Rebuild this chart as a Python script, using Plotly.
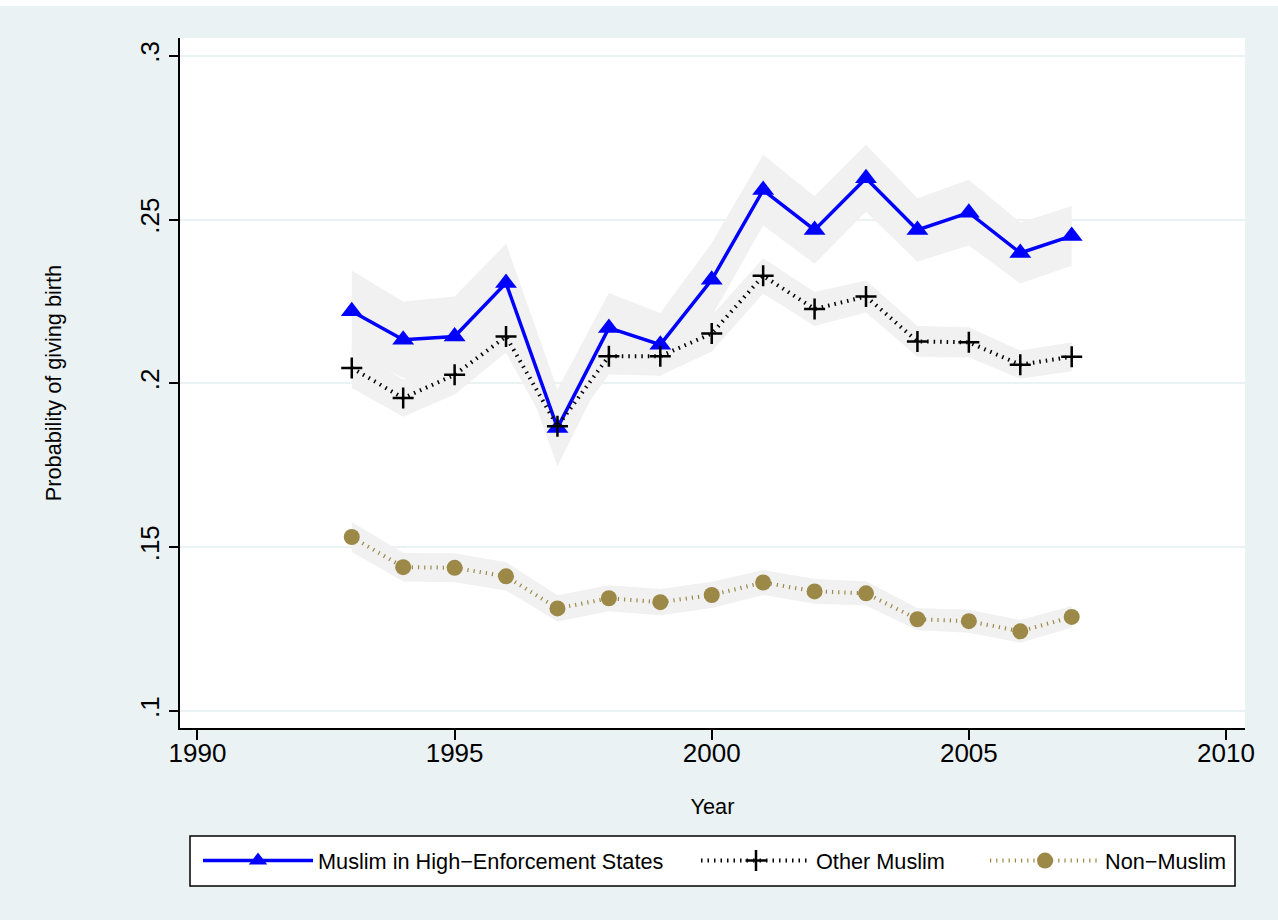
import plotly.graph_objects as go

# Survey years
years = list(range(1993, 2008))

# Predicted probability of giving birth, by group
high_enf = [0.2220, 0.2133, 0.2143, 0.2306, 0.1864, 0.2169, 0.2118, 0.2316,
            0.2590, 0.2468, 0.2626, 0.2468, 0.2521, 0.2398, 0.2450]
high_enf_lo = [0.2096, 0.2016, 0.2021, 0.2186, 0.1747, 0.2062, 0.2021, 0.2204,
               0.2482, 0.2365, 0.2524, 0.2371, 0.2421, 0.2305, 0.2359]
high_enf_hi = [0.2344, 0.2250, 0.2265, 0.2426, 0.1981, 0.2276, 0.2215, 0.2428,
               0.2698, 0.2571, 0.2728, 0.2565, 0.2621, 0.2491, 0.2541]

other_muslim = [0.2047, 0.1955, 0.2026, 0.2143, 0.1869, 0.2083, 0.2083, 0.2152,
                0.2328, 0.2227, 0.2265, 0.2128, 0.2125, 0.2057, 0.2081]
other_muslim_lo = [0.1986, 0.1898, 0.1966, 0.2093, 0.1809, 0.2027, 0.2023, 0.2097,
                   0.2274, 0.2175, 0.2216, 0.2081, 0.2079, 0.2014, 0.2037]
other_muslim_hi = [0.2108, 0.2012, 0.2086, 0.2193, 0.1929, 0.2139, 0.2143, 0.2207,
                   0.2382, 0.2279, 0.2314, 0.2175, 0.2171, 0.2100, 0.2125]

non_muslim = [0.1531, 0.1439, 0.1437, 0.1411, 0.1313, 0.1344, 0.1332, 0.1354,
              0.1392, 0.1365, 0.1359, 0.1280, 0.1274, 0.1243, 0.1287]
non_muslim_lo = [0.1485, 0.1395, 0.1393, 0.1368, 0.1273, 0.1304, 0.1292, 0.1314,
                 0.1354, 0.1327, 0.1322, 0.1246, 0.1239, 0.1208, 0.1254]
non_muslim_hi = [0.1577, 0.1483, 0.1481, 0.1454, 0.1353, 0.1384, 0.1372, 0.1394,
                 0.1430, 0.1403, 0.1396, 0.1314, 0.1309, 0.1278, 0.1320]

series_names = ["Muslim in High\u2212Enforcement States", "Other Muslim", "Non\u2212Muslim"]

x_ticks = [1990, 1995, 2000, 2005, 2010]
y_ticks = [0.1, 0.15, 0.2, 0.25, 0.3]
y_ticktext = [".1", ".15", ".2", ".25", ".3"]

BG = "#EAF2F3"
BAND = "#F1F1F1"
BLUE = "#0000FF"
TAN = "#9C8847"
FONT = "Liberation Sans, Arial, Helvetica, sans-serif"
TXT = 21.7

fig = go.Figure()

# Confidence bands (drawn first, beneath the lines)
for lo, hi in [(high_enf_lo, high_enf_hi),
               (other_muslim_lo, other_muslim_hi),
               (non_muslim_lo, non_muslim_hi)]:
    fig.add_trace(go.Scatter(
        x=years + years[::-1], y=hi + lo[::-1],
        fill="toself", fillcolor=BAND, mode="lines",
        line=dict(width=0, color=BAND), hoverinfo="skip", showlegend=False))

fig.add_trace(go.Scatter(
    x=years, y=high_enf, name=series_names[0], mode="lines+markers",
    line=dict(color=BLUE, width=3.5),
    marker=dict(symbol="triangle-up", size=19, color=BLUE),
    legend="legend"))

fig.add_trace(go.Scatter(
    x=years, y=other_muslim, name=series_names[1], mode="lines+markers",
    line=dict(color="black", width=4, dash="1.5px,5px"),
    marker=dict(symbol="cross-thin", size=15, color="black",
                line=dict(color="black", width=2.5)),
    legend="legend2"))

fig.add_trace(go.Scatter(
    x=years, y=non_muslim, name=series_names[2], mode="lines+markers",
    line=dict(color=TAN, width=4, dash="1.2px,5px"),
    marker=dict(symbol="circle", size=16, color=TAN),
    legend="legend3"))

# Plot region in pixels: x 180..1245, y 38..728
PL, PR, PT, PB = 180, 1245, 38, 728
pw, ph = PR - PL, PB - PT


def px(xp):
    return (xp - PL) / pw


def py(yp):
    return (PB - yp) / ph


legend_common = dict(orientation="h", xanchor="left", yanchor="middle",
                     bgcolor="rgba(0,0,0,0)", borderwidth=0, itemwidth=110,
                     font=dict(family=FONT, size=TXT, color="black"))

fig.update_layout(
    width=1278, height=920, autosize=False,
    paper_bgcolor=BG, plot_bgcolor="white",
    margin=dict(l=PL, r=1278 - PR, t=PT, b=920 - PB),
    font=dict(family=FONT, color="black"),
    legend=dict(x=px(198), y=py(861), **legend_common),
    legend2=dict(x=px(696), y=py(861), **legend_common),
    legend3=dict(x=px(985), y=py(861), **legend_common),
    shapes=[
        # legend frame
        dict(type="rect", xref="paper", yref="paper",
             x0=px(190), x1=px(1235), y0=py(886), y1=py(836),
             fillcolor="white", line=dict(color="black", width=1.5), layer="below"),
        # white strip at the top of the page
        dict(type="rect", xref="paper", yref="paper",
             x0=px(0), x1=px(1278), y0=py(6), y1=py(-20),
             fillcolor="white", line=dict(width=0), layer="below"),
    ],
    xaxis=dict(
        range=[1989.66, 2010.37], tickvals=x_ticks,
        ticks="outside", ticklen=10, tickwidth=1.5, tickcolor="black",
        showline=True, linecolor="black", linewidth=1.5,
        showgrid=False, zeroline=False, ticklabelstandoff=-9,
        tickfont=dict(family=FONT, size=26, color="black"),
        title=dict(text="Year", font=dict(family=FONT, size=TXT, color="black"),
                   standoff=32),
    ),
    yaxis=dict(
        range=[0.0948, 0.3054], tickvals=y_ticks, ticktext=y_ticktext,
        tickangle=-90,
        ticks="outside", ticklen=9, tickwidth=1.5, tickcolor="black",
        showline=True, linecolor="black", linewidth=1.5,
        showgrid=True, gridcolor=BG, gridwidth=2, zeroline=False,
        tickfont=dict(family=FONT, size=26, color="black"),
        title=dict(text="Probability of giving birth",
                   font=dict(family=FONT, size=TXT, color="black"),
                   standoff=67),
    ),
)

fig.write_html("out.html")
